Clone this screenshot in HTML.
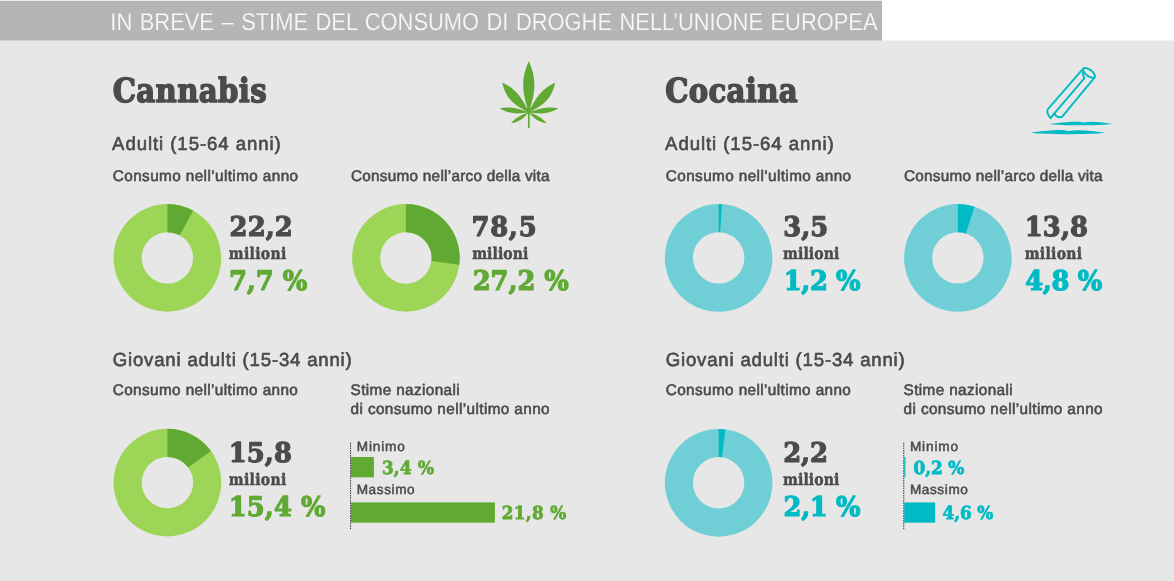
<!DOCTYPE html>
<html lang="it"><head><meta charset="utf-8"><title>In breve – stime del consumo di droghe nell’Unione europea</title>
<style>
html,body{margin:0;padding:0}
body{width:1174px;height:581px;position:relative;overflow:hidden;background:#e7e7e7}
svg{position:absolute;left:0;top:0;display:block}
text{white-space:pre;stroke-linejoin:round;text-rendering:geometricPrecision}
.hd{font-family:"Liberation Sans",sans-serif;font-weight:400;font-size:24.4px;stroke-width:0.2px}
.t{font-family:"DejaVu Serif",serif;font-weight:700;font-size:33.2px;stroke-width:1.5px}
.a{font-family:"Liberation Sans",sans-serif;font-weight:400;font-size:18.9px;stroke-width:0.65px}
.c{font-family:"Liberation Sans",sans-serif;font-weight:400;font-size:15.3px;stroke-width:0.6px}
.num{font-family:"DejaVu Serif",serif;font-weight:700;font-size:27.0px;stroke-width:1.2px}
.mil{font-family:"DejaVu Serif",serif;font-weight:700;font-size:16.3px;stroke-width:0.5px}
.lab{font-family:"Liberation Sans",sans-serif;font-weight:400;font-size:13.6px;stroke-width:0.5px}
.val{font-family:"DejaVu Serif",serif;font-weight:700;font-size:18.0px;stroke-width:0.8px}
</style></head><body>
<svg width="1174" height="581" viewBox="0 0 1174 581">
<rect x="0" y="0" width="882" height="2" fill="#ececec"/><rect x="882" y="0" width="292" height="40.5" fill="#fff"/>
<rect x="0" y="1" width="882" height="39.4" fill="#b5b5b5"/>
<path fill="#9dd556" fill-rule="evenodd" d="M113.60,257.90a53.8,53.8 0 1,0 107.6,0a53.8,53.8 0 1,0 -107.6,0zM141.70,257.90a25.7,25.7 0 1,0 51.4,0a25.7,25.7 0 1,0 -51.4,0z"/><path fill="#60aa34" d="M167.40,204.10A53.8,53.8 0 0,1 193.17,210.67L179.71,235.34A25.7,25.7 0 0,0 167.40,232.20z"/>
<path fill="#9dd556" fill-rule="evenodd" d="M352.10,257.90a53.8,53.8 0 1,0 107.6,0a53.8,53.8 0 1,0 -107.6,0zM380.20,257.90a25.7,25.7 0 1,0 51.4,0a25.7,25.7 0 1,0 -51.4,0z"/><path fill="#60aa34" d="M405.90,204.10A53.8,53.8 0 0,1 459.28,264.64L431.40,261.12A25.7,25.7 0 0,0 405.90,232.20z"/>
<path fill="#9dd556" fill-rule="evenodd" d="M113.60,482.60a53.8,53.8 0 1,0 107.6,0a53.8,53.8 0 1,0 -107.6,0zM141.70,482.60a25.7,25.7 0 1,0 51.4,0a25.7,25.7 0 1,0 -51.4,0z"/><path fill="#60aa34" d="M167.40,428.80A53.8,53.8 0 0,1 210.93,450.98L188.19,467.49A25.7,25.7 0 0,0 167.40,456.90z"/>
<path fill="#70cfd6" fill-rule="evenodd" d="M664.85,257.90a53.8,53.8 0 1,0 107.6,0a53.8,53.8 0 1,0 -107.6,0zM692.95,257.90a25.7,25.7 0 1,0 51.4,0a25.7,25.7 0 1,0 -51.4,0z"/><path fill="#00bac4" d="M718.65,204.10A53.8,53.8 0 0,1 721.86,204.20L720.18,232.25A25.7,25.7 0 0,0 718.65,232.20z"/>
<path fill="#70cfd6" fill-rule="evenodd" d="M904.10,257.90a53.8,53.8 0 1,0 107.6,0a53.8,53.8 0 1,0 -107.6,0zM932.20,257.90a25.7,25.7 0 1,0 51.4,0a25.7,25.7 0 1,0 -51.4,0z"/><path fill="#00bac4" d="M957.90,204.10A53.8,53.8 0 0,1 974.53,206.73L965.84,233.46A25.7,25.7 0 0,0 957.90,232.20z"/>
<path fill="#70cfd6" fill-rule="evenodd" d="M664.85,482.80a53.8,53.8 0 1,0 107.6,0a53.8,53.8 0 1,0 -107.6,0zM692.95,482.80a25.7,25.7 0 1,0 51.4,0a25.7,25.7 0 1,0 -51.4,0z"/><path fill="#00bac4" d="M718.65,429.00A53.8,53.8 0 0,1 725.39,429.42L721.87,457.30A25.7,25.7 0 0,0 718.65,457.10z"/>
<path fill="#60aa34" d="M528.80,112.30C535.81,91.78 536.73,78.44 528.80,61.00C520.87,78.44 521.78,91.78 528.80,112.30zM528.80,112.30C521.90,97.06 515.49,88.86 502.30,82.40C505.47,97.74 513.04,104.92 528.80,112.30zM528.80,112.30C544.53,104.91 552.07,97.73 555.20,82.40C542.03,88.87 535.65,97.07 528.80,112.30zM528.80,112.30C517.49,108.04 509.94,106.63 499.60,108.20C508.93,113.84 516.59,114.42 528.80,112.30zM528.80,112.30C541.12,114.42 548.86,113.84 558.30,108.20C547.86,106.63 540.24,108.04 528.80,112.30zM528.80,112.30C520.65,115.04 515.89,117.68 511.00,123.30C518.69,122.21 523.13,119.05 528.80,112.30zM528.80,112.30C534.51,119.05 538.98,122.22 546.70,123.30C541.77,117.68 536.98,115.03 528.80,112.30z"/><ellipse cx="528.8" cy="110.3" rx="2.6" ry="3" fill="#60aa34"/>
<path d="M528.8,110V127.2" stroke="#60aa34" stroke-width="1.7" stroke-linecap="round" fill="none"/>
<g fill="none" stroke="#00bac4" stroke-width="1.9" stroke-linecap="round" stroke-linejoin="round">
<ellipse cx="1089" cy="72.9" rx="7.0" ry="3.2" transform="rotate(36 1089 72.9)"/>
<path d="M1083.2,68.6L1047.9,109.2C1046.6,111 1047.6,115 1050.6,118.2L1054.4,113.4"/>
<path d="M1054.4,113.4L1084.5,78.2C1083.4,76.5 1082.6,74.5 1082.8,72.6"/>
<path d="M1054.4,113.4C1055.5,116 1058.5,117.6 1061.8,117.1L1094.7,77.3"/>
</g>
<path fill="#00bac4" d="M1049.2,124C1062,122.3 1070,121.2 1079,121.8C1082,122 1083,122.7 1084.5,122.4C1090,121.2 1100,122.1 1112.4,124C1100,125.7 1062,125.9 1049.2,124z"/>
<path fill="#00bac4" d="M1030.6,132.8C1045,130.8 1055,129.8 1064,130.2C1067,130.4 1068.5,131.3 1070,130.9C1078,129.6 1092,130.7 1105.4,132.8C1090,134.7 1045,134.8 1030.6,132.8z"/>
<line x1="350.55" y1="442.6" x2="350.55" y2="529.6" stroke="#333" stroke-width="1" stroke-dasharray="1.5 1"/><rect x="351.0" y="457" width="22.9" height="20.3" fill="#60aa34"/><rect x="351.0" y="502.4" width="143.9" height="20.3" fill="#60aa34"/>
<line x1="903.75" y1="442.6" x2="903.75" y2="529.6" stroke="#333" stroke-width="1" stroke-dasharray="1.5 1"/><rect x="904.1999999999999" y="457" width="1.2" height="20.3" fill="#00bac4"/><rect x="904.1999999999999" y="502.4" width="31.0" height="20.3" fill="#00bac4"/>
<g id="header">
<text class="hd" transform="translate(110.37 29.90) scale(0.8971 1)" fill="#f8f8f6" stroke="#b5b5b5" letter-spacing="0.000" word-spacing="1.600">IN BREVE – STIME DEL CONSUMO DI DROGHE NELL’UNIONE EUROPEA</text>
</g>
<g id="cannabis">
<text class="t" transform="translate(112.73 101.85) scale(0.8800 1)" fill="#4b4b4a" stroke="#4b4b4a" letter-spacing="0.397" word-spacing="0.000">Cannabis</text>
<text class="a" transform="translate(112.07 150.28) scale(0.9850 1)" fill="#4b4b4a" stroke="#4b4b4a" letter-spacing="0.936" word-spacing="0.000">Adulti (15-64 anni)</text>
<text class="c" transform="translate(112.85 181.20) scale(1.0000 1)" fill="#4b4b4a" stroke="#4b4b4a" letter-spacing="0.400" word-spacing="0.000">Consumo nell’ultimo anno</text>
<text class="c" transform="translate(350.95 181.20) scale(1.0000 1)" fill="#4b4b4a" stroke="#4b4b4a" letter-spacing="0.270" word-spacing="0.000">Consumo nell’arco della vita</text>
<text class="a" transform="translate(112.77 366.07) scale(0.9850 1)" fill="#4b4b4a" stroke="#4b4b4a" letter-spacing="0.808" word-spacing="0.000">Giovani adulti (15-34 anni)</text>
<text class="c" transform="translate(112.75 395.30) scale(1.0000 1)" fill="#4b4b4a" stroke="#4b4b4a" letter-spacing="0.395" word-spacing="0.000">Consumo nell’ultimo anno</text>
<text class="c" transform="translate(350.55 395.20) scale(1.0000 1)" fill="#4b4b4a" stroke="#4b4b4a" letter-spacing="0.383" word-spacing="0.000">Stime nazionali</text>
<text class="c" transform="translate(350.55 413.50) scale(1.0000 1)" fill="#4b4b4a" stroke="#4b4b4a" letter-spacing="0.394" word-spacing="0.000">di consumo nell’ultimo anno</text>
<text class="num" transform="translate(229.57 236.05) scale(0.9550 1)" fill="#4b4b4a" stroke="#4b4b4a" letter-spacing="0.145" word-spacing="0.000">22,2</text>
<text class="mil" transform="translate(228.87 258.60) scale(0.8600 1)" fill="#4b4b4a" stroke="#4b4b4a" letter-spacing="0.333" word-spacing="0.000">milioni</text>
<text class="num" transform="translate(228.91 290.35) scale(0.9550 1)" fill="#60aa34" stroke="#60aa34" letter-spacing="-0.012" word-spacing="0.000">7,7 %</text>
<text class="num" transform="translate(471.41 236.05) scale(0.9550 1)" fill="#4b4b4a" stroke="#4b4b4a" letter-spacing="0.827" word-spacing="0.000">78,5</text>
<text class="mil" transform="translate(472.16 258.60) scale(0.8600 1)" fill="#4b4b4a" stroke="#4b4b4a" letter-spacing="0.120" word-spacing="0.000">milioni</text>
<text class="num" transform="translate(472.67 290.35) scale(0.9550 1)" fill="#60aa34" stroke="#60aa34" letter-spacing="-0.030" word-spacing="0.000">27,2 %</text>
<text class="num" transform="translate(228.76 462.05) scale(0.9550 1)" fill="#4b4b4a" stroke="#4b4b4a" letter-spacing="0.094" word-spacing="0.000">15,8</text>
<text class="mil" transform="translate(228.87 484.60) scale(0.8600 1)" fill="#4b4b4a" stroke="#4b4b4a" letter-spacing="0.333" word-spacing="0.000">milioni</text>
<text class="num" transform="translate(228.76 516.35) scale(0.9550 1)" fill="#60aa34" stroke="#60aa34" letter-spacing="0.098" word-spacing="0.000">15,4 %</text>
<text class="lab" transform="translate(356.70 451.25) scale(1.0000 1)" fill="#4b4b4a" stroke="#4b4b4a" letter-spacing="0.870" word-spacing="0.000">Minimo</text>
<text class="lab" transform="translate(356.70 494.15) scale(1.0000 1)" fill="#4b4b4a" stroke="#4b4b4a" letter-spacing="0.596" word-spacing="0.000">Massimo</text>
<text class="val" transform="translate(381.89 474.30) scale(0.9350 1)" fill="#60aa34" stroke="#60aa34" letter-spacing="0.228" word-spacing="0.000">3,4 %</text>
<text class="val" transform="translate(501.79 519.40) scale(0.9350 1)" fill="#60aa34" stroke="#60aa34" letter-spacing="0.351" word-spacing="0.000">21,8 %</text>
</g>
<g id="cocaina">
<text class="t" transform="translate(665.13 101.85) scale(0.8800 1)" fill="#4b4b4a" stroke="#4b4b4a" letter-spacing="0.364" word-spacing="0.000">Cocaina</text>
<text class="a" transform="translate(665.07 150.28) scale(0.9850 1)" fill="#4b4b4a" stroke="#4b4b4a" letter-spacing="0.936" word-spacing="0.000">Adulti (15-64 anni)</text>
<text class="c" transform="translate(665.85 181.20) scale(1.0000 1)" fill="#4b4b4a" stroke="#4b4b4a" letter-spacing="0.400" word-spacing="0.000">Consumo nell’ultimo anno</text>
<text class="c" transform="translate(903.95 181.20) scale(1.0000 1)" fill="#4b4b4a" stroke="#4b4b4a" letter-spacing="0.270" word-spacing="0.000">Consumo nell’arco della vita</text>
<text class="a" transform="translate(665.77 366.07) scale(0.9850 1)" fill="#4b4b4a" stroke="#4b4b4a" letter-spacing="0.808" word-spacing="0.000">Giovani adulti (15-34 anni)</text>
<text class="c" transform="translate(665.75 395.30) scale(1.0000 1)" fill="#4b4b4a" stroke="#4b4b4a" letter-spacing="0.395" word-spacing="0.000">Consumo nell’ultimo anno</text>
<text class="c" transform="translate(903.55 395.20) scale(1.0000 1)" fill="#4b4b4a" stroke="#4b4b4a" letter-spacing="0.383" word-spacing="0.000">Stime nazionali</text>
<text class="c" transform="translate(903.55 413.50) scale(1.0000 1)" fill="#4b4b4a" stroke="#4b4b4a" letter-spacing="0.394" word-spacing="0.000">di consumo nell’ultimo anno</text>
<text class="num" transform="translate(783.27 236.05) scale(0.9550 1)" fill="#4b4b4a" stroke="#4b4b4a" letter-spacing="0.029" word-spacing="0.000">3,5</text>
<text class="mil" transform="translate(783.06 258.60) scale(0.8600 1)" fill="#4b4b4a" stroke="#4b4b4a" letter-spacing="0.120" word-spacing="0.000">milioni</text>
<text class="num" transform="translate(783.76 290.35) scale(0.9550 1)" fill="#00bac4" stroke="#00bac4" letter-spacing="-0.391" word-spacing="0.000">1,2 %</text>
<text class="num" transform="translate(1024.66 236.05) scale(0.9550 1)" fill="#4b4b4a" stroke="#4b4b4a" letter-spacing="0.199" word-spacing="0.000">13,8</text>
<text class="mil" transform="translate(1024.66 258.60) scale(0.8600 1)" fill="#4b4b4a" stroke="#4b4b4a" letter-spacing="0.372" word-spacing="0.000">milioni</text>
<text class="num" transform="translate(1025.17 290.35) scale(0.9550 1)" fill="#00bac4" stroke="#00bac4" letter-spacing="-0.341" word-spacing="0.000">4,8 %</text>
<text class="num" transform="translate(783.27 462.05) scale(0.9550 1)" fill="#4b4b4a" stroke="#4b4b4a" letter-spacing="-0.128" word-spacing="0.000">2,2</text>
<text class="mil" transform="translate(783.06 484.60) scale(0.8600 1)" fill="#4b4b4a" stroke="#4b4b4a" letter-spacing="0.120" word-spacing="0.000">milioni</text>
<text class="num" transform="translate(783.57 516.35) scale(0.9550 1)" fill="#00bac4" stroke="#00bac4" letter-spacing="-0.341" word-spacing="0.000">2,1 %</text>
<text class="lab" transform="translate(909.90 451.25) scale(1.0000 1)" fill="#4b4b4a" stroke="#4b4b4a" letter-spacing="0.870" word-spacing="0.000">Minimo</text>
<text class="lab" transform="translate(909.90 494.15) scale(1.0000 1)" fill="#4b4b4a" stroke="#4b4b4a" letter-spacing="0.596" word-spacing="0.000">Massimo</text>
<text class="val" transform="translate(913.62 474.30) scale(0.9350 1)" fill="#00bac4" stroke="#00bac4" letter-spacing="-0.129" word-spacing="0.000">0,2 %</text>
<text class="val" transform="translate(942.52 519.40) scale(0.9350 1)" fill="#00bac4" stroke="#00bac4" letter-spacing="-0.102" word-spacing="0.000">4,6 %</text>
</g>
</svg>
</body></html>
